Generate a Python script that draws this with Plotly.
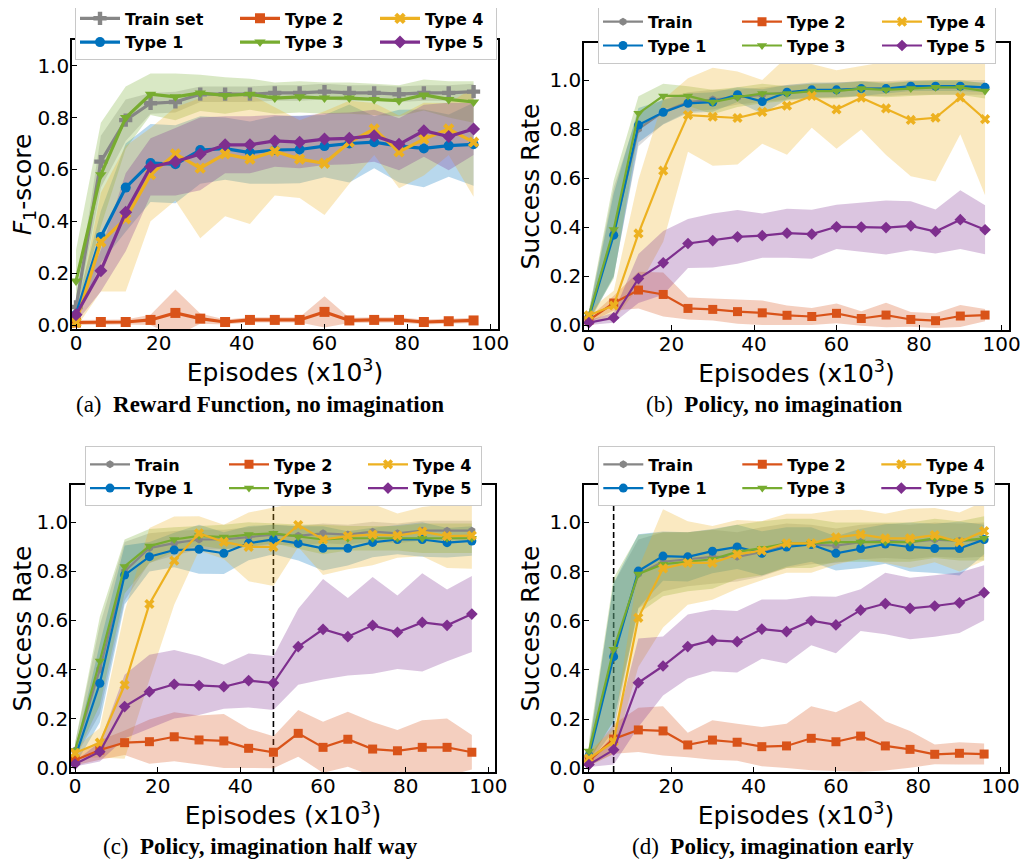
import numpy as np
import plotly.graph_objects as go

# ---------------- data ----------------
X = [0, 6, 12, 18, 24, 30, 36, 42, 48, 54, 60, 66, 72, 78, 84, 90, 96]
X_TICKS = [0, 20, 40, 60, 80, 100]
Y_TICKS = [0.0, 0.2, 0.4, 0.6, 0.8, 1.0]

# (a) Reward function, no imagination  (F1-score)
A_TRAIN = [0.07, 0.63, 0.79, 0.855, 0.86, 0.89, 0.89, 0.89, 0.895, 0.895, 0.90, 0.895, 0.895, 0.89, 0.895, 0.895, 0.90]
A_T1 = [0.04, 0.34, 0.53, 0.625, 0.62, 0.675, 0.68, 0.665, 0.675, 0.677, 0.69, 0.70, 0.705, 0.69, 0.681, 0.692, 0.697]
A_T2 = [0.01, 0.012, 0.012, 0.02, 0.047, 0.025, 0.012, 0.02, 0.02, 0.02, 0.051, 0.018, 0.02, 0.02, 0.012, 0.015, 0.018]
A_T3 = [0.17, 0.58, 0.80, 0.89, 0.88, 0.895, 0.885, 0.89, 0.875, 0.88, 0.875, 0.875, 0.87, 0.865, 0.887, 0.87, 0.86]
A_T4 = [0.01, 0.32, 0.41, 0.58, 0.66, 0.605, 0.66, 0.64, 0.67, 0.64, 0.624, 0.705, 0.756, 0.668, 0.717, 0.756, 0.705]
A_T5 = [0.04, 0.21, 0.435, 0.61, 0.63, 0.66, 0.695, 0.695, 0.71, 0.705, 0.717, 0.72, 0.73, 0.697, 0.749, 0.727, 0.756]
A_TRAIN_SD = [0.03, 0.10, 0.08, 0.04, 0.04, 0.03, 0.03, 0.03, 0.03, 0.03, 0.03, 0.03, 0.03, 0.03, 0.03, 0.03, 0.03]
A_T1_SD = [0.03, 0.10, 0.17, 0.15, 0.15, 0.13, 0.12, 0.12, 0.13, 0.13, 0.12, 0.15, 0.10, 0.14, 0.15, 0.12, 0.16]
A_T2_SD = [0.01, 0.01, 0.01, 0.02, 0.09, 0.02, 0.01, 0.01, 0.01, 0.01, 0.06, 0.01, 0.01, 0.01, 0.01, 0.01, 0.01]
A_T3_SD = [0.12, 0.20, 0.12, 0.08, 0.09, 0.07, 0.07, 0.06, 0.06, 0.06, 0.06, 0.06, 0.06, 0.06, 0.06, 0.07, 0.08]
A_T4_SD = [0.02, 0.19, 0.28, 0.18, 0.18, 0.27, 0.24, 0.25, 0.17, 0.15, 0.20, 0.16, 0.10, 0.14, 0.14, 0.10, 0.21]
A_T5_SD = [0.03, 0.08, 0.15, 0.11, 0.13, 0.14, 0.11, 0.11, 0.10, 0.10, 0.10, 0.10, 0.10, 0.10, 0.10, 0.13, 0.10]

# (b) Policy, no imagination  (success rate)
B_TRAIN = [0.04, 0.38, 0.80, 0.87, 0.91, 0.92, 0.93, 0.94, 0.95, 0.955, 0.96, 0.965, 0.965, 0.97, 0.97, 0.97, 0.97]
B_T1 = [0.03, 0.367, 0.816, 0.868, 0.905, 0.91, 0.94, 0.912, 0.95, 0.96, 0.96, 0.965, 0.965, 0.975, 0.975, 0.975, 0.97]
B_T2 = [0.02, 0.09, 0.143, 0.125, 0.068, 0.064, 0.055, 0.05, 0.04, 0.035, 0.048, 0.027, 0.041, 0.023, 0.018, 0.037, 0.041]
B_T3 = [0.04, 0.39, 0.864, 0.935, 0.935, 0.91, 0.93, 0.945, 0.945, 0.955, 0.955, 0.965, 0.96, 0.965, 0.97, 0.97, 0.955]
B_T4 = [0.04, 0.08, 0.374, 0.63, 0.857, 0.85, 0.845, 0.87, 0.895, 0.935, 0.88, 0.928, 0.884, 0.837, 0.846, 0.929, 0.84]
B_T5 = [0.01, 0.03, 0.19, 0.254, 0.333, 0.345, 0.36, 0.365, 0.375, 0.371, 0.401, 0.40, 0.398, 0.405, 0.382, 0.43, 0.389]
B_TRAIN_SD = [0.02, 0.18, 0.07, 0.05, 0.04, 0.04, 0.03, 0.03, 0.03, 0.03, 0.03, 0.03, 0.03, 0.03, 0.03, 0.03, 0.03]
B_T1_SD = [0.02, 0.17, 0.07, 0.05, 0.04, 0.04, 0.03, 0.05, 0.03, 0.03, 0.03, 0.03, 0.02, 0.02, 0.02, 0.02, 0.02]
B_T2_SD = [0.01, 0.03, 0.075, 0.09, 0.045, 0.045, 0.05, 0.05, 0.04, 0.035, 0.04, 0.03, 0.05, 0.03, 0.03, 0.045, 0.025]
B_T3_SD = [0.02, 0.20, 0.07, 0.05, 0.04, 0.05, 0.04, 0.04, 0.03, 0.03, 0.03, 0.03, 0.03, 0.03, 0.03, 0.03, 0.03]
B_T4_SD = [0.02, 0.06, 0.22, 0.29, 0.15, 0.20, 0.19, 0.13, 0.20, 0.13, 0.16, 0.13, 0.19, 0.23, 0.26, 0.15, 0.31]
B_T5_SD = [0.01, 0.02, 0.10, 0.13, 0.10, 0.11, 0.11, 0.09, 0.10, 0.10, 0.09, 0.10, 0.11, 0.10, 0.09, 0.12, 0.10]

# (c) Policy, imagination half way
C_TRAIN = [0.07, 0.40, 0.80, 0.895, 0.915, 0.93, 0.93, 0.94, 0.95, 0.945, 0.955, 0.95, 0.962, 0.955, 0.966, 0.966, 0.966]
C_T1 = [0.04, 0.344, 0.785, 0.86, 0.887, 0.89, 0.874, 0.915, 0.93, 0.914, 0.894, 0.894, 0.918, 0.93, 0.93, 0.917, 0.924]
C_T2 = [0.03, 0.072, 0.102, 0.106, 0.126, 0.113, 0.109, 0.079, 0.063, 0.14, 0.083, 0.116, 0.076, 0.069, 0.083, 0.083, 0.063]
C_T3 = [0.07, 0.435, 0.82, 0.903, 0.93, 0.945, 0.94, 0.95, 0.955, 0.941, 0.93, 0.935, 0.935, 0.935, 0.935, 0.935, 0.935]
C_T4 = [0.06, 0.102, 0.337, 0.667, 0.844, 0.955, 0.92, 0.90, 0.90, 0.989, 0.93, 0.944, 0.95, 0.946, 0.962, 0.944, 0.946]
C_T5 = [0.015, 0.065, 0.249, 0.31, 0.34, 0.335, 0.33, 0.355, 0.345, 0.493, 0.564, 0.534, 0.58, 0.552, 0.592, 0.58, 0.626]
C_TRAIN_SD = [0.03, 0.18, 0.12, 0.06, 0.05, 0.04, 0.04, 0.04, 0.04, 0.04, 0.04, 0.04, 0.04, 0.04, 0.04, 0.04, 0.04]
C_T1_SD = [0.03, 0.16, 0.12, 0.06, 0.07, 0.10, 0.085, 0.07, 0.06, 0.07, 0.09, 0.07, 0.06, 0.06, 0.07, 0.06, 0.06]
C_T2_SD = [0.02, 0.04, 0.05, 0.09, 0.10, 0.10, 0.11, 0.08, 0.065, 0.095, 0.104, 0.112, 0.11, 0.085, 0.11, 0.117, 0.07]
C_T3_SD = [0.03, 0.18, 0.11, 0.07, 0.05, 0.04, 0.05, 0.05, 0.04, 0.05, 0.06, 0.05, 0.05, 0.05, 0.06, 0.06, 0.06]
C_T4_SD = [0.02, 0.06, 0.30, 0.31, 0.18, 0.07, 0.07, 0.14, 0.16, 0.09, 0.145, 0.135, 0.125, 0.09, 0.10, 0.13, 0.135]
C_T5_SD = [0.01, 0.04, 0.13, 0.15, 0.14, 0.12, 0.09, 0.11, 0.11, 0.155, 0.205, 0.158, 0.197, 0.15, 0.20, 0.146, 0.155]

# (d) Policy, imagination early
D_TRAIN = [0.06, 0.47, 0.79, 0.84, 0.85, 0.86, 0.86, 0.88, 0.905, 0.91, 0.905, 0.92, 0.925, 0.92, 0.93, 0.925, 0.93]
D_T1 = [0.05, 0.454, 0.802, 0.863, 0.86, 0.883, 0.90, 0.874, 0.90, 0.91, 0.874, 0.894, 0.912, 0.90, 0.894, 0.894, 0.93]
D_T2 = [0.03, 0.119, 0.156, 0.152, 0.095, 0.115, 0.106, 0.088, 0.091, 0.122, 0.108, 0.131, 0.091, 0.077, 0.057, 0.061, 0.058]
D_T3 = [0.07, 0.484, 0.79, 0.83, 0.84, 0.85, 0.88, 0.895, 0.915, 0.915, 0.92, 0.92, 0.92, 0.92, 0.935, 0.925, 0.935]
D_T4 = [0.04, 0.108, 0.612, 0.813, 0.835, 0.835, 0.87, 0.885, 0.915, 0.915, 0.939, 0.951, 0.935, 0.935, 0.948, 0.92, 0.965]
D_T5 = [0.015, 0.075, 0.348, 0.416, 0.495, 0.52, 0.515, 0.566, 0.556, 0.60, 0.583, 0.643, 0.67, 0.65, 0.66, 0.673, 0.714]
D_TRAIN_SD = [0.03, 0.28, 0.14, 0.12, 0.11, 0.11, 0.10, 0.10, 0.09, 0.08, 0.07, 0.07, 0.07, 0.07, 0.07, 0.07, 0.07]
D_T1_SD = [0.03, 0.30, 0.15, 0.10, 0.10, 0.09, 0.09, 0.09, 0.08, 0.07, 0.07, 0.08, 0.08, 0.10, 0.10, 0.11, 0.06]
D_T2_SD = [0.02, 0.06, 0.09, 0.10, 0.05, 0.08, 0.075, 0.08, 0.09, 0.13, 0.12, 0.145, 0.10, 0.075, 0.04, 0.045, 0.043]
D_T3_SD = [0.04, 0.29, 0.16, 0.13, 0.12, 0.12, 0.11, 0.11, 0.10, 0.10, 0.08, 0.08, 0.08, 0.08, 0.08, 0.08, 0.09]
D_T4_SD = [0.03, 0.05, 0.20, 0.24, 0.17, 0.15, 0.14, 0.12, 0.12, 0.12, 0.11, 0.10, 0.10, 0.12, 0.11, 0.12, 0.12]
D_T5_SD = [0.01, 0.06, 0.18, 0.12, 0.13, 0.125, 0.125, 0.12, 0.13, 0.10, 0.115, 0.085, 0.125, 0.125, 0.125, 0.123, 0.112]

SERIES_NAMES_A = ["Train set", "Type 1", "Type 2", "Type 3", "Type 4", "Type 5"]
SERIES_NAMES = ["Train", "Type 1", "Type 2", "Type 3", "Type 4", "Type 5"]
CAPTIONS = [("(a)", "Reward Function, no imagination"),
            ("(b)", "Policy, no imagination"),
            ("(c)", "Policy, imagination half way"),
            ("(d)", "Policy, imagination early")]
IMAGINATION_START = {"c": 48, "d": 6}

# ---------------- style ----------------
COLORS = ["#868686", "#0072BD", "#D95319", "#77AC30", "#EDB120", "#7E2F8E"]
GROUPS = ["g1", "g1", "g2", "g2", "g3", "g3"]


def rgba(hex_color, a):
    h = hex_color.lstrip("#")
    return "rgba(%d,%d,%d,%.3f)" % (int(h[0:2], 16), int(h[2:4], 16), int(h[4:6], 16), a)


# the page places the figure 8 px from the window's top-left corner
OFF = 8
W, H = 1028 - OFF, 863 - OFF


def px_x(v):
    return (v - OFF) / W


def px_y(v):
    return 1 - (v - OFF) / H


panels = [
    dict(key="a", xa="x", ya="y", leg="legend", names=SERIES_NAMES_A,
         means=[A_TRAIN, A_T1, A_T2, A_T3, A_T4, A_T5],
         sds=[A_TRAIN_SD, A_T1_SD, A_T2_SD, A_T3_SD, A_T4_SD, A_T5_SD],
         xdom=(72, 498), ydom=(40, 329), xr=[-0.97, 101.9], yr=[-0.015, 1.099],
         symbols=["cross", "circle", "square", "triangle-down", "x", "diamond"],
         sizes=[11, 10, 10, 10, 10, 10], lw=3.2,
         legx=75, legtop=0.4, colw=[105, 85, 66], ystand=1,
         ytitle="<i>F</i><sub>1</sub>-score", cap=(260, 405)),
    dict(key="b", xa="x2", ya="y2", leg="legend2", names=SERIES_NAMES,
         means=[B_TRAIN, B_T1, B_T2, B_T3, B_T4, B_T5],
         sds=[B_TRAIN_SD, B_T1_SD, B_T2_SD, B_T3_SD, B_T4_SD, B_T5_SD],
         xdom=(584, 1009), ydom=(43, 330), xr=[-1.2, 101.8], yr=[-0.02, 1.151],
         symbols=["hexagon", "circle", "square", "triangle-down", "x", "diamond"],
         sizes=[8, 9, 9, 9, 9, 9], lw=2.2,
         legx=598, legtop=3.8, colw=[84, 85, 63], ystand=3,
         ytitle="Success Rate", cap=(774, 405)),
    dict(key="c", xa="x3", ya="y3", leg="legend3", names=SERIES_NAMES,
         means=[C_TRAIN, C_T1, C_T2, C_T3, C_T4, C_T5],
         sds=[C_TRAIN_SD, C_T1_SD, C_T2_SD, C_T3_SD, C_T4_SD, C_T5_SD],
         xdom=(71, 495), ydom=(485, 772), xr=[-0.97, 101.6], yr=[-0.0175, 1.152],
         symbols=["hexagon", "circle", "square", "triangle-down", "x", "diamond"],
         sizes=[8, 9, 9, 9, 9, 9], lw=2.2,
         legx=85, legtop=446.4, colw=[84, 84, 63], ystand=3,
         ytitle="Success Rate", cap=(260, 846.7)),
    dict(key="d", xa="x4", ya="y4", leg="legend4", names=SERIES_NAMES,
         means=[D_TRAIN, D_T1, D_T2, D_T3, D_T4, D_T5],
         sds=[D_TRAIN_SD, D_T1_SD, D_T2_SD, D_T3_SD, D_T4_SD, D_T5_SD],
         xdom=(584, 1008), ydom=(485, 772), xr=[-1.2, 101.8], yr=[-0.015, 1.152],
         symbols=["hexagon", "circle", "square", "triangle-down", "x", "diamond"],
         sizes=[8, 9, 9, 9, 9, 9], lw=2.2,
         legx=598.3, legtop=446.4, colw=[84, 84, 63], ystand=3,
         ytitle="Success Rate", cap=(773.3, 846.7)),
]

fig = go.Figure()
layout = dict(width=W, height=H, margin=dict(l=0, r=0, t=0, b=0, autoexpand=False),
              paper_bgcolor="white", plot_bgcolor="white", template="none",
              showlegend=True)

TICKFONT = dict(family="DejaVu Sans", size=20, color="black")
TITLEFONT = dict(family="DejaVu Sans", size=25, color="black")
annotations = []
shapes = []

for p in panels:
    xs = np.array(X, dtype=float)
    # confidence bands (mean +/- std)
    for i in range(6):
        m = np.array(p["means"][i])
        sd = np.array(p["sds"][i])
        up, lo = m + sd, m - sd
        fig.add_trace(go.Scatter(
            x=np.concatenate([xs, xs[::-1]]), y=np.concatenate([up, lo[::-1]]),
            fill="toself", fillcolor=rgba(COLORS[i], 0.28), mode="lines",
            line=dict(width=0, color=rgba(COLORS[i], 0)), hoverinfo="skip",
            showlegend=False, xaxis=p["xa"], yaxis=p["ya"]))
    # mean curves
    gw = {"g1": p["colw"][0], "g2": p["colw"][1], "g3": p["colw"][2]}
    for i in range(6):
        fig.add_trace(go.Scatter(
            x=X, y=p["means"][i], mode="lines+markers",
            name="<b>" + p["names"][i] + "</b>",
            line=dict(color=COLORS[i], width=p["lw"]),
            marker=dict(symbol=p["symbols"][i], size=p["sizes"][i], color=COLORS[i],
                        line=dict(width=0)),
            legend=p["leg"], legendgroup=p["key"] + GROUPS[i],
            legendwidth=gw[GROUPS[i]],
            xaxis=p["xa"], yaxis=p["ya"]))

    sfx = p["xa"][1:]
    xname = "xaxis" + sfx
    yname = "yaxis" + sfx
    common = dict(showline=True, linecolor="black", linewidth=1.6, mirror=True,
                  ticks="inside", ticklen=5, tickwidth=1.4, tickcolor="black",
                  showgrid=False, zeroline=False, tickfont=TICKFONT, automargin=False)
    layout[xname] = dict(common, domain=[px_x(p["xdom"][0]), px_x(p["xdom"][1])],
                         range=p["xr"], anchor=p["ya"], tickvals=X_TICKS,
                         ticklabelstandoff=-5,
                         title=dict(text="Episodes (x10<sup>3</sup>)", font=TITLEFONT, standoff=2))
    layout[yname] = dict(common, domain=[px_y(p["ydom"][1]), px_y(p["ydom"][0])],
                         range=p["yr"], anchor=p["xa"], tickvals=Y_TICKS, tickformat=".1f",
                         ticklabelstandoff=-3,
                         title=dict(text=p["ytitle"], font=TITLEFONT, standoff=p["ystand"]))
    layout[p["leg"]] = dict(orientation="h", traceorder="grouped",
                            x=px_x(p["legx"]), y=px_y(p["legtop"]),
                            xanchor="left", yanchor="top", itemwidth=40,
                            font=dict(family="DejaVu Sans", size=16, color="black"),
                            bgcolor="white", bordercolor="#c8c8c8", borderwidth=1,
                            tracegroupgap=0)
    if p["key"] in IMAGINATION_START:
        xv = IMAGINATION_START[p["key"]]
        shapes.append(dict(type="line", xref=p["xa"], yref=p["ya"] + " domain",
                           x0=xv, x1=xv, y0=0, y1=1, layer="below",
                           line=dict(color="black", width=1.6, dash="6px,3px")))

for p, (lab, txt) in zip(panels, CAPTIONS):
    annotations.append(dict(x=px_x(p["cap"][0]), y=px_y(p["cap"][1]), xref="paper", yref="paper",
                            text=lab + "\u00a0 <b>" + txt + "</b>", showarrow=False,
                            xanchor="center", yanchor="middle",
                            font=dict(family="Liberation Serif", size=23, color="black")))

layout["annotations"] = annotations
layout["shapes"] = shapes
fig.update_layout(**layout)
fig.write_html("out.html")
